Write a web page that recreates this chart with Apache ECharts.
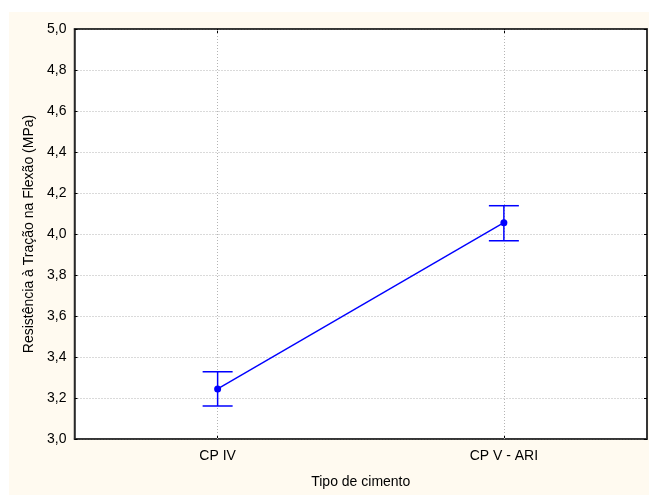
<!DOCTYPE html>
<html>
<head>
<meta charset="utf-8">
<script src="https://cdn.jsdelivr.net/npm/echarts@6/dist/echarts.min.js"></script>
<style>
  html, body { margin: 0; padding: 0; background: #ffffff; }
  #chart { width: 649px; height: 495px; }
</style>
</head>
<body>
<div id="chart"></div>
<script>
// Cement types and flexural tensile strength (MPa): mean with interval bounds
const categories = ['CP IV', 'CP V - ARI'];
const means = [3.244, 4.055];
const lowerBounds = [3.161, 3.967];
const upperBounds = [3.328, 4.138];

const blue = '#0000ff';
const gridColor = '#b4b4b4';
const fontFamily = 'Liberation Sans, Arial, sans-serif';

const chart = echarts.init(document.getElementById('chart'), null, { renderer: 'canvas' });

const errorData = categories.map((c, i) => [i, lowerBounds[i], upperBounds[i]]);

chart.setOption({
  backgroundColor: '#ffffff',
  animation: false,
  textStyle: { fontFamily: fontFamily },
  graphic: [{
    type: 'rect',
    z: -10,
    shape: { x: 9, y: 12, width: 640, height: 483 },
    style: { fill: '#fffaf0' }
  }],
  grid: {
    left: 74.5, right: 2, top: 29, bottom: 56,
    show: true,
    backgroundColor: '#ffffff',
    borderColor: '#2a2a2a',
    borderWidth: 1.5
  },
  xAxis: [{
    type: 'category',
    data: categories,
    position: 'bottom',
    boundaryGap: true,
    axisLine: { show: true, lineStyle: { color: '#2a2a2a', width: 1.5 } },
    axisTick: { show: true, inside: true, alignWithLabel: true, length: 4, lineStyle: { color: '#000' } },
    axisLabel: { color: '#000', fontSize: 14, margin: 10 },
    splitLine: { show: false },
    name: 'Tipo de cimento',
    nameLocation: 'middle',
    nameGap: 36,
    nameTextStyle: { color: '#000', fontSize: 14 }
  }, {
    type: 'category',
    data: categories,
    position: 'top',
    boundaryGap: true,
    axisLine: { show: true, lineStyle: { color: '#2a2a2a', width: 1.5 } },
    axisTick: { show: true, inside: true, alignWithLabel: true, length: 4, lineStyle: { color: '#000' } },
    axisLabel: { show: false }
  }],
  yAxis: [{
    type: 'value',
    min: 3.0, max: 5.0, interval: 0.2,
    position: 'left',
    axisLine: { show: true, lineStyle: { color: '#2a2a2a', width: 1.5 } },
    axisTick: { show: true, inside: true, length: 3, lineStyle: { color: '#000' } },
    axisLabel: {
      color: '#000', fontSize: 14, margin: 8,
      formatter: v => v.toFixed(1).replace('.', ',')
    },
    splitLine: { show: true, lineStyle: { color: gridColor, type: [1, 2], width: 1 } },
    name: 'Resistência à Tração na Flexão (MPa)',
    nameLocation: 'middle',
    nameGap: 37,
    nameRotate: 90,
    nameTextStyle: { color: '#000', fontSize: 14 }
  }, {
    type: 'value',
    min: 3.0, max: 5.0, interval: 0.2,
    position: 'right',
    axisLine: { show: true, lineStyle: { color: '#2a2a2a', width: 1.5 } },
    axisTick: { show: true, inside: true, length: 3, lineStyle: { color: '#000' } },
    axisLabel: { show: false },
    splitLine: { show: false }
  }],
  series: [{
    type: 'line',
    data: means,
    xAxisIndex: 0, yAxisIndex: 0,
    symbol: 'circle',
    symbolSize: 7,
    lineStyle: { color: blue, width: 1.4 },
    itemStyle: { color: blue },
    z: 5,
    // vertical dotted guides through each category
    markLine: {
      silent: true,
      symbol: 'none',
      label: { show: false },
      z: 1,
      lineStyle: { color: gridColor, type: [1, 2], width: 1 },
      data: categories.map(c => ({ xAxis: c }))
    }
  }, {
    type: 'custom',
    xAxisIndex: 0, yAxisIndex: 0,
    data: errorData,
    renderItem: function (params, api) {
      const x = api.coord([api.value(0), api.value(1)])[0];
      const lo = api.coord([api.value(0), api.value(1)])[1];
      const hi = api.coord([api.value(0), api.value(2)])[1];
      const half = 15;
      const style = { stroke: blue, lineWidth: 1.5 };
      return {
        type: 'group',
        children: [
          { type: 'line', shape: { x1: x, y1: lo, x2: x, y2: hi }, style: style },
          { type: 'line', shape: { x1: x - half, y1: lo, x2: x + half, y2: lo }, style: style },
          { type: 'line', shape: { x1: x - half, y1: hi, x2: x + half, y2: hi }, style: style }
        ]
      };
    },
    z: 4
  }]
});
</script>
</body>
</html>
